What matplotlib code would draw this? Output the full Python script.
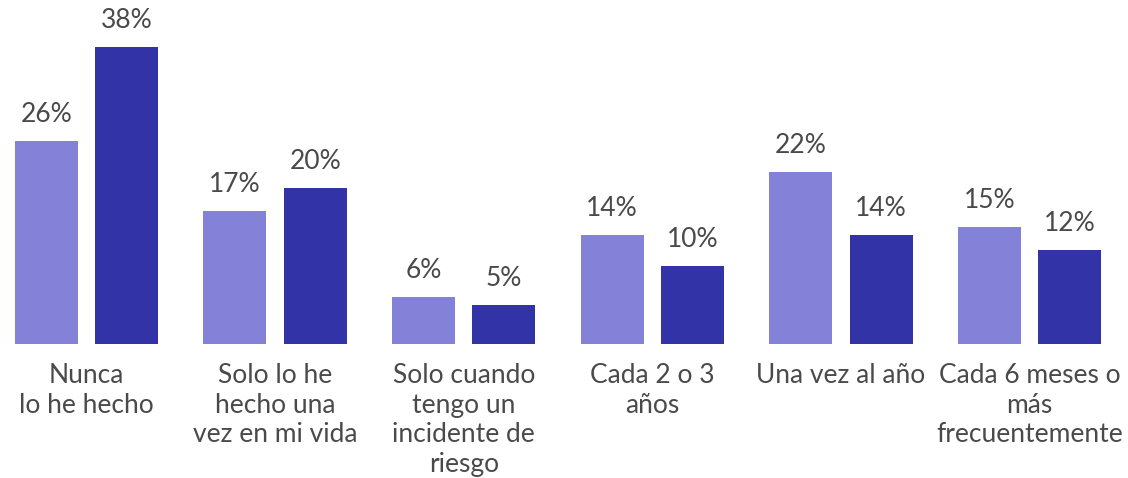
import matplotlib
matplotlib.use("Agg")
import matplotlib.pyplot as plt
import numpy as np

# frequency categories and the two series (percent)
categories = [
    "Nunca\nlo he hecho",
    "Solo lo he\nhecho una\nvez en mi vida",
    "Solo cuando\ntengo un\nincidente de\nriesgo",
    "Cada 2 o 3\naños",
    "Una vez al año",
    "Cada 6 meses o\nmás\nfrecuentemente",
]
serie_a = [26, 17, 6, 14, 22, 15]
serie_b = [38, 20, 5, 10, 14, 12]

color_a = "#8482d8"
color_b = "#3333a8"
text_color = "#4a4a4a"

plt.rcParams["font.family"] = ["Lato", "DejaVu Sans"]

fig = plt.figure(figsize=(11.28, 4.78), dpi=100)
ax = fig.add_axes([0, 0.2803, 1, 0.686])

x = np.arange(len(categories))
w = 0.334
off = 0.213

bars_a = ax.bar(x - off, serie_a, width=w, color=color_a)
bars_b = ax.bar(x + off, serie_b, width=w, color=color_b)

for bars, vals in ((bars_a, serie_a), (bars_b, serie_b)):
    for b, v in zip(bars, vals):
        ax.annotate(f"{v}%", (b.get_x() + b.get_width() / 2, v),
                    xytext=(0, 10), textcoords="offset points",
                    ha="center", va="bottom", fontsize=19, color=text_color)

# category labels under the baseline
for xi, lab in zip(x, categories):
    ax.annotate(lab, (xi, 0), xytext=(0, -14), textcoords="offset points",
                ha="center", va="top", fontsize=19, color=text_color,
                linespacing=1.22)

ax.set_xlim(-0.459, 5.522)
ax.set_ylim(0, 42)
ax.axis("off")

fig.savefig("out.png", dpi=100)
